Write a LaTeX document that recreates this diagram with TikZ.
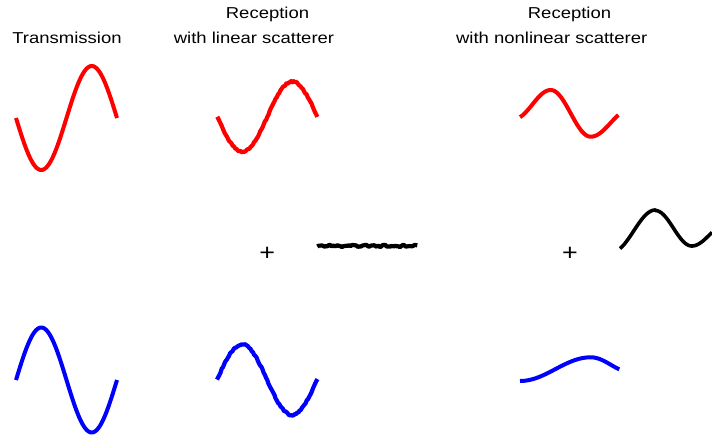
\documentclass[tikz,border=0pt]{standalone}
\usepackage{fontspec}
\newfontfamily\labfont[FakeStretch=1.17]{Liberation Sans}
\begin{document}
\begin{tikzpicture}[x=1pt,y=-1pt,
  lab/.style={inner sep=0pt,anchor=base,font=\labfont\fontsize{15.8}{18}\selectfont},
  plus/.style={inner sep=0pt,anchor=base,font=\labfont\fontsize{23}{26}\selectfont},
  wave/.style={line width=4pt,line join=round},
  noisy/.style={line width=4.2pt,line join=round}]
\useasboundingbox (0,0) rectangle (712,441);
\pgfmathsetseed{11}
% titles
\node[lab] (t1) at (67,44) {Transmission};
\node[lab] (t2a) at (267.5,18.7) {Reception};
\node[lab] (t2b) at (254,44) {with linear scatterer};
\node[lab] (t3a) at (569.5,18.7) {Reception};
\node[lab] (t3b) at (551.7,44) {with nonlinear scatterer};
% plus signs
\node[plus] (p1) at (267.3,260.5) {+};
\node[plus] (p2) at (570,260.5) {+};
% transmission
\draw[wave,red] plot[domain=16:117,samples=120] (\x,{118+52*sin((\x-16)*3.5644)});
\draw[wave,blue] plot[domain=16:117,samples=120] (\x,{380-52.5*sin((\x-16)*3.5644)});
% linear reception (noisy)
\draw[noisy,red] plot[domain=217.3:317.3,samples=85] (\x,{116.7+35*sin((\x-217.3)*3.6)+0.8*rand});
\draw[noisy,blue] plot[domain=217:317.5,samples=85] (\x,{379.7-35.3*sin((\x-217)*3.6)+0.8*rand});
\draw[noisy,black] plot[domain=317.3:417.3,samples=70] (\x,{246+1.2*rand});
% nonlinear reception
\draw[wave,red] plot[domain=520:550.7,samples=30] (\x,{104.5+14.5*cos((\x-514)*4.9046)})
  -- plot[domain=550.7:590.7,samples=40] (\x,{113.35-23.35*cos((\x-550.7)*4.5)})
  -- plot[domain=590.7:618.3,samples=30] (\x,{136.7-13.9*(1-cos((\x-590.7)*4.5))});
\draw[wave,blue] plot[domain=520:590.7,samples=60] (\x,{369.15+11.85*cos((\x-520)*2.546)})
  -- plot[domain=590.7:619.3,samples=30] (\x,{357.3+7.4*(1-cos((\x-590.7)*4.5))});
\draw[line width=3.6pt,line join=round,black] plot[domain=620:655.3,samples=35] (\x,{231+21*cos((\x-612)*4.157)})
  -- plot[domain=655.3:691.7,samples=36] (\x,{228.25-17.75*cos((\x-655.3)*4.945)})
  -- plot[domain=691.7:712,samples=20] (\x,{246-11.6*(1-cos((\x-691.7)*4.945))});
\end{tikzpicture}
\end{document}
